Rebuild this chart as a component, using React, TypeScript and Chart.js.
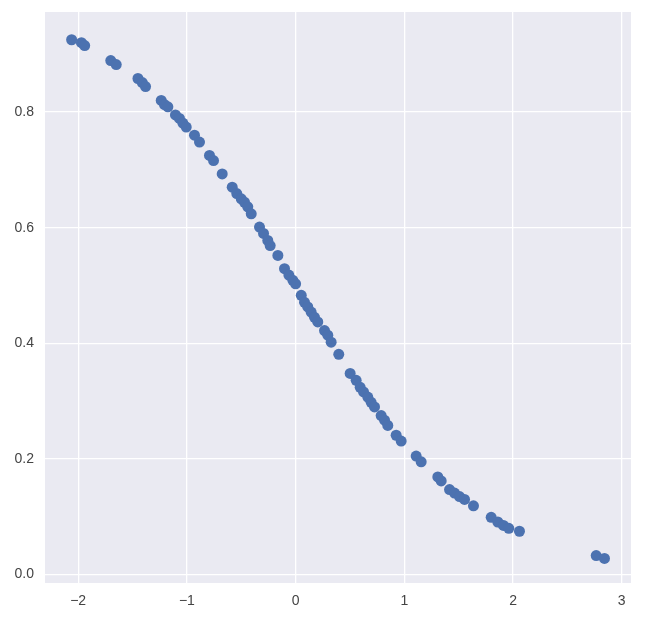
import React, { useEffect, useRef } from "react";
import { Chart, registerables } from "chart.js";

Chart.register(...registerables);

const xValues = [
  -2.06, -1.97, -1.94, -1.70, -1.65, -1.45, -1.41, -1.38, -1.236, -1.206, -1.175,
  -1.105, -1.068, -1.037, -1.006, -0.93, -0.884, -0.792, -0.755, -0.675, -0.583,
  -0.541, -0.5, -0.47, -0.44, -0.408, -0.332, -0.295, -0.256, -0.234, -0.163,
  -0.102, -0.062, -0.025, 0.0, 0.052, 0.082, 0.112, 0.143, 0.174, 0.204, 0.266,
  0.296, 0.327, 0.397, 0.502, 0.557, 0.594, 0.625, 0.664, 0.695, 0.726, 0.787,
  0.818, 0.848, 0.925, 0.971, 1.109, 1.155, 1.308, 1.339, 1.416, 1.462, 1.508,
  1.554, 1.636, 1.799, 1.86, 1.912, 1.961, 2.059, 2.765, 2.841,
];
const yValues = [
  0.925, 0.92, 0.915, 0.889, 0.882, 0.858, 0.851, 0.844, 0.82, 0.813, 0.809,
  0.795, 0.789, 0.781, 0.774, 0.76, 0.748, 0.725, 0.716, 0.693, 0.67,
  0.659, 0.65, 0.644, 0.636, 0.624, 0.601, 0.59, 0.578, 0.569, 0.552,
  0.529, 0.518, 0.509, 0.503, 0.483, 0.471, 0.463, 0.454, 0.445, 0.437, 0.422,
  0.414, 0.402, 0.381, 0.348, 0.336, 0.324, 0.316, 0.307, 0.298, 0.29, 0.275,
  0.267, 0.258, 0.241, 0.231, 0.205, 0.195, 0.169, 0.162, 0.147, 0.141, 0.135,
  0.13, 0.119, 0.099, 0.091, 0.085, 0.08, 0.075, 0.033, 0.028,
];
const xTicks = [-2, -1, 0, 1, 2, 3];
const xTickLabels = ["\u22122", "\u22121", "0", "1", "2", "3"];
const yTicks = [0, 0.2, 0.4, 0.6, 0.8];
const yTickLabels = ["0.0", "0.2", "0.4", "0.6", "0.8"];
const xLimits = [-2.305, 3.085];
const yLimits = [-0.0145, 0.973];

const bgPlugin = {
  id: "seabornBg",
  beforeDraw(chart: any) {
    const { ctx, chartArea, width, height } = chart;
    ctx.save();
    ctx.fillStyle = "#ffffff";
    ctx.fillRect(0, 0, width, height);
    ctx.fillStyle = "#EAEAF2";
    ctx.fillRect(chartArea.left, chartArea.top, chartArea.right - chartArea.left, chartArea.bottom - chartArea.top);
    ctx.restore();
  },
};

export default function App() {
  const ref = useRef<HTMLCanvasElement | null>(null);
  useEffect(() => {
    document.body.style.margin = "0";
    if (!ref.current) return;
    const points = xValues.map((x, i) => ({ x, y: yValues[i] }));
    const tickFont = { family: "'Liberation Sans', Arial, sans-serif", size: 14 };
    const chart = new Chart(ref.current, {
      type: "scatter",
      data: {
        datasets: [
          {
            data: points,
            backgroundColor: "#4C72B0",
            borderWidth: 0,
            pointRadius: 5.5,
            pointHoverRadius: 5.5,
          },
        ],
      },
      options: {
        animation: false,
        responsive: false,
        events: [],
        layout: { padding: { top: 12, right: 15, bottom: 0, left: 0 } },
        plugins: { legend: { display: false }, tooltip: { enabled: false } },
        scales: {
          x: {
            type: "linear",
            min: xLimits[0],
            max: xLimits[1],
            afterBuildTicks: (scale: any) => {
              scale.ticks = xTicks.map((v) => ({ value: v }));
            },
            afterFit: (scale: any) => {
              scale.height = 39;
              scale.paddingLeft = 0;
              scale.paddingRight = 0;
            },
            ticks: {
              callback: (v: any) => {
                const i = xTicks.indexOf(Number(v));
                return i >= 0 ? xTickLabels[i] : "";
              },
              color: "#444444",
              font: tickFont,
              padding: 10,
              maxRotation: 0,
            },
            grid: { color: "#ffffff", lineWidth: 1.3, drawTicks: false },
            border: { display: false },
          },
          y: {
            type: "linear",
            min: yLimits[0],
            max: yLimits[1],
            afterBuildTicks: (scale: any) => {
              scale.ticks = yTicks.map((v) => ({ value: v }));
            },
            afterFit: (scale: any) => {
              scale.width = 45;
              scale.paddingTop = 0;
              scale.paddingBottom = 0;
            },
            ticks: {
              callback: (v: any) => {
                const i = yTicks.findIndex((t) => Math.abs(t - Number(v)) < 1e-9);
                return i >= 0 ? yTickLabels[i] : "";
              },
              color: "#444444",
              font: tickFont,
              padding: 11,
            },
            grid: { color: "#ffffff", lineWidth: 1.3, drawTicks: false },
            border: { display: false },
          },
        },
      },
      plugins: [bgPlugin],
    });
    return () => chart.destroy();
  }, []);
  return <canvas ref={ref} width={646} height={622} style={{ display: "block" }} />;
}
